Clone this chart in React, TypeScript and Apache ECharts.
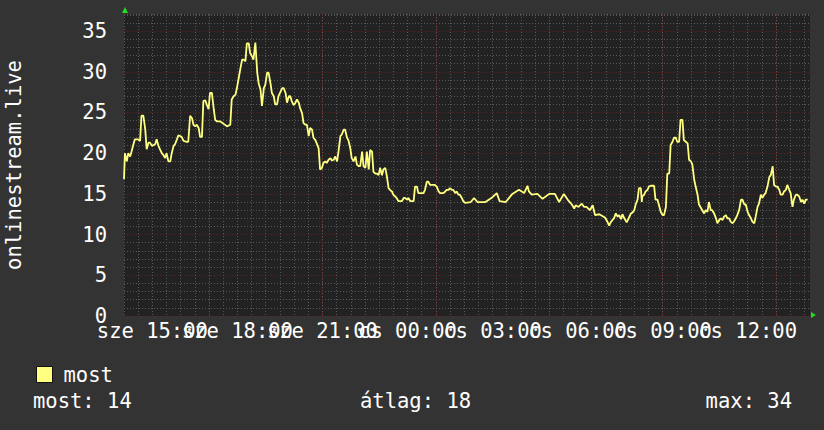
import React, { useEffect, useRef } from "react";
import * as echarts from "echarts";

// időpontok: percek 14:00 óta
const minutes = [
  0, 2, 6, 9, 13, 16, 20, 23, 30, 34, 37, 41, 45, 48, 52, 55, 59, 66, 69, 73, 76, 80, 83, 87, 90, 94, 98, 101, 105,
  108, 112, 115, 122, 126, 133, 136, 140, 144, 147, 151, 154, 158, 161, 165, 168, 172, 175, 179, 182, 186, 190, 193,
  197, 204, 211, 218, 225, 228, 232, 236, 239, 243, 246, 250, 253, 257, 260, 264, 267, 271, 274, 278, 282, 285, 289,
  292, 296, 299, 303, 306, 310, 313, 317, 320, 324, 327, 335, 338, 342, 345, 349, 352, 355, 359, 363, 366, 370, 373,
  377, 380, 384, 387, 391, 394, 398, 401, 405, 408, 412, 415, 419, 422, 426, 429, 433, 437, 440, 444, 447, 451, 454,
  458, 461, 465, 468, 472, 475, 479, 482, 486, 490, 493, 497, 500, 504, 507, 511, 514, 518, 521, 525, 528, 532, 535,
  539, 542, 546, 549, 553, 556, 560, 563, 567, 570, 574, 577, 581, 584, 588, 592, 595, 599, 602, 606, 609, 613, 616,
  620, 623, 627, 630, 634, 637, 641, 644, 648, 651, 655, 658, 662, 666, 669, 673, 676, 680, 683, 687, 690, 694, 697,
  701, 704, 708, 711, 715, 718, 722, 734, 741, 748, 765, 780, 789, 795, 808, 822, 836, 847, 854, 857, 863, 875, 886,
  900, 912, 921, 931, 939, 948, 953, 956, 962, 969, 974, 979, 986, 992, 997, 1006, 1018, 1023, 1027, 1030, 1034, 1037,
  1041, 1045, 1048, 1052, 1055, 1059, 1064, 1069, 1073, 1076, 1080, 1083, 1087, 1090, 1094, 1096, 1097, 1101, 1104,
  1108, 1111, 1115, 1122, 1125, 1129, 1132, 1136, 1140, 1143, 1147, 1150, 1154, 1157, 1161, 1164, 1168, 1171, 1175,
  1178, 1182, 1185, 1189, 1193, 1196, 1200, 1203, 1207, 1210, 1214, 1217, 1221, 1224, 1228, 1231, 1235, 1238, 1242,
  1245, 1249, 1253, 1256, 1260, 1263, 1267, 1270, 1274, 1277, 1281, 1284, 1288, 1291, 1295, 1298, 1302, 1306, 1309,
  1313, 1316, 1320, 1323, 1327, 1330, 1334, 1337, 1341, 1344, 1348, 1351, 1355, 1358, 1362, 1366, 1369, 1373, 1376,
  1380, 1383, 1387, 1390, 1394, 1397, 1401, 1404, 1408, 1411, 1415, 1418, 1422, 1425, 1429, 1433, 1436, 1440, 1443,
  1447,
];

// nézők száma (most)
const viewers = [
  16.8, 20.0, 19.0, 20.0, 19.6, 20.2, 21.1, 21.7, 21.7, 21.5, 24.6, 24.6, 22.9, 20.5, 21.3, 21.3, 20.9, 21.1, 21.7,
  20.9, 20.5, 20.0, 19.8, 19.4, 20.0, 19.0, 19.0, 20.0, 20.9, 21.1, 21.7, 22.2, 22.0, 21.5, 21.4, 21.4, 24.6, 24.3,
  23.5, 23.3, 23.5, 23.1, 22.0, 22.0, 26.4, 26.5, 26.0, 25.4, 27.4, 27.4, 25.4, 24.1, 23.9, 23.9, 23.6, 23.3, 23.5,
  26.6, 27.0, 27.2, 28.0, 29.3, 30.3, 31.5, 31.5, 31.3, 33.5, 33.5, 32.3, 31.9, 31.5, 33.6, 29.9, 28.6, 27.8, 25.8,
  28.0, 28.4, 29.9, 29.9, 28.6, 27.4, 27.0, 26.0, 26.0, 27.0, 28.0, 28.0, 27.4, 26.2, 27.0, 27.0, 26.4, 25.9, 26.2,
  26.6, 26.2, 25.5, 24.9, 23.7, 23.5, 23.5, 22.1, 23.1, 22.9, 21.9, 21.6, 21.2, 20.6, 18.0, 18.2, 18.8, 19.0, 18.8,
  19.2, 19.4, 19.1, 19.2, 19.6, 19.0, 20.2, 22.1, 22.3, 22.9, 22.9, 21.9, 21.6, 20.6, 19.4, 19.0, 19.6, 18.6, 18.4,
  18.4, 20.2, 18.4, 18.2, 20.2, 18.0, 20.4, 20.2, 17.7, 17.5, 17.5, 17.3, 18.2, 17.3, 18.0, 18.2, 17.3, 15.7, 15.5,
  15.3, 14.9, 14.7, 14.5, 14.1, 14.1, 14.1, 14.5, 14.5, 14.3, 14.5, 14.1, 14.1, 14.1, 15.9, 15.9, 15.1, 15.1, 15.1,
  15.1, 15.5, 16.5, 16.5, 16.1, 16.1, 16.1, 16.1, 15.9, 15.3, 15.1, 15.1, 15.1, 15.3, 15.5, 15.5, 15.7, 15.5, 15.5,
  15.1, 15.3, 14.9, 14.9, 14.5, 14.1, 13.9, 14.0, 14.5, 14.0, 14.0, 14.6, 15.1, 14.1, 14.0, 15.0, 15.5, 15.1, 16.0,
  15.3, 14.9, 15.0, 14.4, 15.0, 15.0, 14.0, 15.0, 14.3, 13.7, 13.2, 13.6, 13.4, 13.8, 13.4, 13.4, 13.0, 13.6, 12.4,
  12.5, 12.1, 11.6, 11.1, 11.5, 11.8, 12.0, 12.6, 12.2, 12.4, 11.9, 12.5, 12.0, 11.5, 12.1, 12.6, 12.7, 13.0, 13.7,
  14.3, 15.7, 15.7, 14.0, 14.7, 14.9, 15.3, 15.5, 15.9, 16.0, 16.0, 14.3, 14.3, 13.7, 12.8, 12.4, 12.4, 13.4, 17.5,
  17.5, 21.0, 21.4, 21.9, 21.9, 21.4, 21.4, 24.1, 24.1, 21.6, 21.4, 21.2, 19.2, 19.0, 18.6, 16.7, 15.9, 14.9, 13.7,
  13.3, 13.0, 12.6, 13.0, 12.8, 14.0, 13.0, 13.0, 12.6, 12.0, 11.4, 11.8, 12.0, 11.8, 12.2, 12.4, 12.0, 12.0, 11.6,
  11.4, 11.6, 12.0, 12.4, 13.0, 14.3, 14.3, 13.7, 13.7, 12.8, 12.4, 12.0, 11.6, 11.4, 12.2, 13.4, 13.8, 14.9, 14.5,
  14.9, 15.1, 15.9, 17.1, 17.3, 18.4, 16.1, 15.9, 15.9, 15.5, 14.9, 14.9, 15.3, 15.5, 16.1, 15.5, 15.1, 13.4, 14.3,
  14.9, 14.9, 14.7, 14.0, 14.3, 13.8, 14.3, 14.3,
];

// feliratok helye (perc) és szövege
const labelMinutes = [60, 240, 420, 600, 780, 960, 1140, 1320];
const timeLabels = ["sze 15:00", "sze 18:00", "sze 21:00", "cs 00:00", "cs 03:00", "cs 06:00", "cs 09:00", "cs 12:00"];
// piros fő rácsvonalak (17:00, 21:00, ...)
const majorMinutes = [180, 420, 660, 900, 1140, 1380];
// összesítés: most, átlag, max
const summary = [14, 18, 34];

const FONT = "'DejaVu Sans Mono', monospace";
const FS = 20.5;
const X_MAX = 1452;
const Y_MAX = 37.1;

// a feliratok átfedik egymást, ezért két tengelyre osztjuk őket (páros / páratlan)
const labelAxis = (parity: number) => ({
  type: "value" as const,
  min: 0,
  max: X_MAX,
  position: "bottom" as const,
  axisLine: { show: false },
  axisTick: { show: false },
  splitLine: { show: false },
  axisLabel: {
    customValues: labelMinutes.filter((_, i) => i % 2 === parity),
    color: "#fff",
    fontSize: FS,
    fontFamily: FONT,
    margin: 4,
    hideOverlap: false,
    showMinLabel: true,
    showMaxLabel: true,
    formatter: (v: number) => {
      const i = labelMinutes.indexOf(v);
      return i >= 0 ? timeLabels[i] : "";
    },
  },
});

const App: React.FC = () => {
  const chartRef = useRef<HTMLDivElement>(null);

  useEffect(() => {
    const chart = echarts.init(chartRef.current, null, { renderer: "svg" });
    const option: echarts.EChartsOption = {
      animation: false,
      backgroundColor: "#333333",
      textStyle: { fontFamily: FONT },
      grid: {
        left: 124,
        top: 14,
        right: 14,
        bottom: 114,
        show: true,
        backgroundColor: "#222222",
        borderWidth: 0,
        outerBoundsMode: "none",
      } as any,
      legend: {
        left: 31,
        top: 359,
        icon: "rect",
        itemWidth: 16,
        itemHeight: 16,
        itemStyle: { borderColor: "#111", borderWidth: 1 },
        textStyle: { color: "#fff", fontSize: FS, fontFamily: FONT, padding: [0, 0, 0, 6] },
        data: ["most"],
      },
      xAxis: [
        {
          type: "value",
          min: 0,
          max: X_MAX,
          interval: 30,
          axisLine: { show: false },
          axisTick: { show: false },
          axisLabel: { show: false },
          splitLine: {
            show: true,
            showMaxLine: false,
            lineStyle: { color: "#575757", type: [1, 2], width: 1 },
          },
        },
        labelAxis(0),
        labelAxis(1),
      ] as any,
      yAxis: [
        {
          type: "value",
          position: "left",
          min: 0,
          max: Y_MAX,
          interval: 1,
          axisLine: { show: false },
          axisTick: { show: false },
          axisLabel: { show: false },
          splitLine: {
            show: true,
            showMaxLine: true,
            lineStyle: { color: "#575757", type: [1, 2], width: 1 },
          },
        },
        {
          type: "value",
          position: "left",
          min: 0,
          max: Y_MAX,
          interval: 5,
          name: "onlinestream.live",
          nameLocation: "middle",
          nameGap: 100,
          nameTextStyle: { color: "#fff", fontSize: FS, fontFamily: FONT },
          axisLine: { show: false },
          axisTick: { show: false },
          axisLabel: {
            color: "#fff",
            fontSize: FS,
            fontFamily: FONT,
            margin: 17,
            showMaxLabel: false,
          },
          splitLine: {
            show: true,
            showMaxLine: false,
            lineStyle: { color: "#6a1f1f", type: [1, 2], width: 1 },
          },
        },
      ],
      graphic: [
        // nyilak a tengelyek végén
        { type: "polygon", shape: { points: [[122, 13], [128, 13], [125, 7]] }, style: { fill: "#22dd22" } },
        { type: "polygon", shape: { points: [[811, 312], [811, 318], [816, 315]] }, style: { fill: "#22dd22" } },
        {
          type: "text",
          left: 33,
          top: 390,
          style: { text: `most: ${summary[0]}`, fill: "#fff", font: `${FS}px ${FONT}` },
        },
        {
          type: "text",
          left: 360,
          top: 390,
          style: { text: `átlag: ${summary[1]}`, fill: "#fff", font: `${FS}px ${FONT}` },
        },
        {
          type: "text",
          right: 32,
          top: 390,
          style: { text: `max: ${summary[2]}`, fill: "#fff", font: `${FS}px ${FONT}` },
        },
      ],
      series: [
        {
          name: "most",
          type: "line",
          xAxisIndex: 0,
          yAxisIndex: 1,
          color: "#ffff80",
          showSymbol: false,
          lineStyle: { color: "#ffff80", width: 1.8 },
          data: minutes.map((m, i) => [m, viewers[i]]),
          markLine: {
            silent: true,
            z: 1,
            symbol: ["none", "none"],
            label: { show: false },
            lineStyle: { color: "#6a1f1f", type: [1, 2], width: 1 },
            data: majorMinutes.map((m) => ({ xAxis: m })),
          },
        },
      ],
    };
    chart.setOption(option);
    return () => {
      chart.dispose();
    };
  }, []);

  return <div ref={chartRef} style={{ position: "fixed", left: 0, top: 0, width: 824, height: 430 }} />;
};

export default App;
